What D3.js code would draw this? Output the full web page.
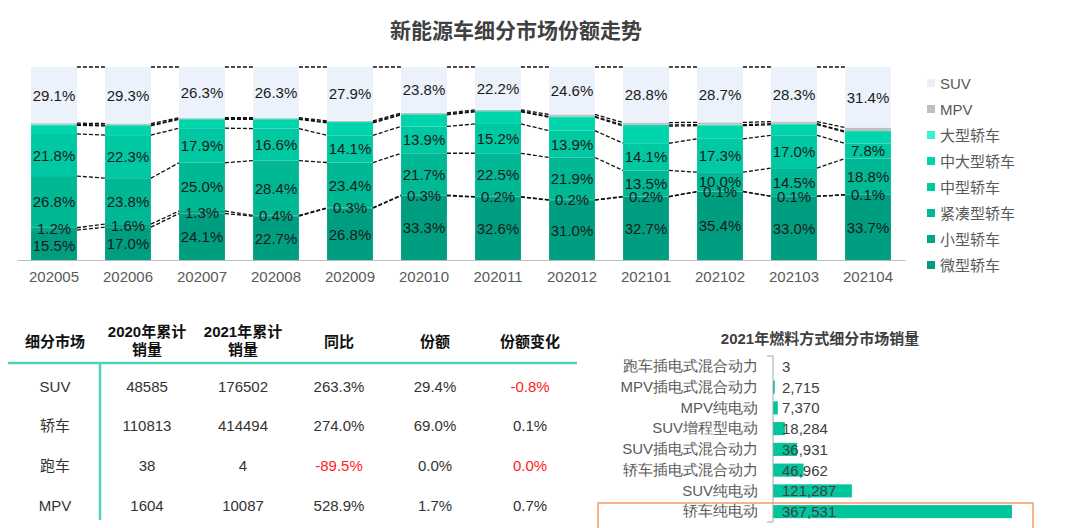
<!DOCTYPE html>
<html>
<head>
<meta charset="utf-8">
<script src="https://cdn.jsdelivr.net/npm/d3@7"></script>
<style>
  html, body { margin: 0; padding: 0; background: #fff; }
  svg { display: block; font-family: "Liberation Sans", Arial, "Noto Sans CJK SC", sans-serif; }
</style>
</head>
<body>
<svg id="chart" width="1080" height="528"></svg>
<script>
// ---------- Data: stacked share chart ----------
const months = ["202005","202006","202007","202008","202009","202010","202011","202012","202101","202102","202103","202104"];
const weixing     = [15.5, 17.0, 24.1, 22.7, 26.8, 33.3, 32.6, 31.0, 32.7, 35.4, 33.0, 33.7];
const xiaoxing    = [1.2, 1.6, 1.3, 0.4, 0.3, 0.3, 0.2, 0.2, 0.2, 0.1, 0.1, 0.1];
const jincou      = [26.8, 23.8, 25.0, 28.4, 23.4, 21.7, 22.5, 21.9, 13.5, 10.0, 14.5, 18.8];
const zhongxing   = [21.8, 22.3, 17.9, 16.6, 14.1, 13.9, 15.2, 13.9, 14.1, 17.3, 17.0, 7.8];
const zhongdaxing = [4.5, 4.8, 4.6, 4.8, 6.4, 6.0, 6.3, 7.0, 8.9, 6.8, 5.5, 5.9];
const daxing      = [0.4, 0.4, 0.3, 0.3, 0.5, 0.4, 0.4, 0.4, 0.6, 0.5, 0.5, 0.5];
const mpv         = [0.7, 0.8, 0.5, 0.5, 0.6, 0.6, 0.6, 1.0, 1.2, 1.2, 1.1, 1.8];
const suv         = [29.1, 29.3, 26.3, 26.3, 27.9, 23.8, 22.2, 24.6, 28.8, 28.7, 28.3, 31.4];

const seriesNames = ["微型轿车","小型轿车","紧凑型轿车","中型轿车","中大型轿车","大型轿车","MPV","SUV"];
const seriesData  = [weixing, xiaoxing, jincou, zhongxing, zhongdaxing, daxing, mpv, suv];
const labeledSeries = ["微型轿车","小型轿车","紧凑型轿车","中型轿车","SUV"];

// ---------- Data: table ----------
const tableHeaders = [["细分市场"], ["2020年累计","销量"], ["2021年累计","销量"], ["同比"], ["份额"], ["份额变化"]];
const segments   = ["SUV","轿车","跑车","MPV"];
const sales2020  = ["48585","110813","38","1604"];
const sales2021  = ["176502","414494","4","10087"];
const yoy        = ["263.3%","274.0%","-89.5%","528.9%"];
const shareCol   = ["29.4%","69.0%","0.0%","1.7%"];
const shareChg   = ["-0.8%","0.1%","0.0%","0.7%"];
const redYoy     = [false, false, true, false];
const redChg     = [true, false, true, false];

// ---------- Data: fuel bar chart ----------
const fuelCats   = ["跑车插电式混合动力","MPV插电式混合动力","MPV纯电动","SUV增程型电动","SUV插电式混合动力","轿车插电式混合动力","SUV纯电动","轿车纯电动"];
const fuelValues = [3, 2715, 7370, 18284, 36931, 46962, 121287, 367531];

// ---------- Styles ----------
const colors = {
  "微型轿车": "#009e80",
  "小型轿车": "#00a888",
  "紧凑型轿车": "#00b894",
  "中型轿车": "#00c8a2",
  "中大型轿车": "#00d4ab",
  "大型轿车": "#00e0b4",
  "MPV": "#bfbfbf",
  "SUV": "#ecf2fb"
};
const legendColors = Object.assign({}, colors, {"大型轿车": "#33f5cf", "SUV": "#eaf0fa"});

const svg = d3.select("#chart");

// Title
svg.append("text")
  .attr("x", 516).attr("y", 32)
  .attr("text-anchor", "middle").attr("dominant-baseline", "middle")
  .attr("font-size", 21).attr("font-weight", "bold").attr("fill", "#404040")
  .text("新能源车细分市场份额走势");

// ---------- Stacked chart ----------
const x = d3.scaleBand().domain(months).range([17, 905]).paddingInner(0.38).paddingOuter(0.19);
const y = d3.scaleLinear().domain([0, 100]).range([260, 67]);
const bw = x.bandwidth();

const rows = months.map((m, i) => {
  const o = {month: m};
  seriesNames.forEach((s, k) => o[s] = seriesData[k][i]);
  return o;
});
const stack = d3.stack().keys(seriesNames)(rows);

const gBars = svg.append("g");
stack.forEach(layer => {
  gBars.selectAll(null).data(layer).enter().append("rect")
    .attr("x", d => x(d.data.month))
    .attr("y", d => y(d[1]))
    .attr("width", bw)
    .attr("height", d => y(d[0]) - y(d[1]))
    .attr("fill", colors[layer.key]);
});

// Series lines (dashed) between bars
const gLines = svg.append("g");
stack.forEach(layer => {
  for (let i = 0; i < layer.length - 1; i++) {
    gLines.append("line")
      .attr("x1", x(months[i]) + bw).attr("y1", y(layer[i][1]))
      .attr("x2", x(months[i + 1])).attr("y2", y(layer[i + 1][1]))
      .attr("stroke", "#111").attr("stroke-width", 1.3)
      .attr("stroke-dasharray", "4,2");
  }
});

// Labels
const gLabels = svg.append("g");
stack.forEach(layer => {
  if (!labeledSeries.includes(layer.key)) return;
  gLabels.selectAll(null).data(layer).enter().append("text")
    .attr("x", d => x(d.data.month) + bw / 2)
    .attr("y", d => y((d[0] + d[1]) / 2))
    .attr("text-anchor", "middle").attr("dominant-baseline", "central")
    .attr("font-size", 15).attr("fill", "#1a1a1a")
    .text(d => d.data[layer.key].toFixed(1) + "%");
});

// X axis
const xAxis = svg.append("g").attr("transform", "translate(0,260)")
  .call(d3.axisBottom(x).tickSize(0).tickPadding(11));
xAxis.select(".domain").attr("stroke", "#bfbfbf").attr("stroke-width", 1.2);
xAxis.selectAll("text").attr("font-size", 15).attr("fill", "#595959")
  .attr("font-family", "\"Liberation Sans\", Arial, sans-serif");

// Legend
const legendOrder = seriesNames.slice().reverse();
const lg = svg.append("g");
legendOrder.forEach((s, i) => {
  const cy = 83 + i * 26;
  lg.append("rect").attr("x", 927).attr("y", cy - 4).attr("width", 8).attr("height", 8)
    .attr("fill", legendColors[s]);
  lg.append("text").attr("x", 940).attr("y", cy).attr("dominant-baseline", "central")
    .attr("font-size", 15).attr("fill", "#595959").text(s);
});

// ---------- Table ----------
const colX = [55, 147, 243, 339, 435, 530];
const tg = svg.append("g");
tableHeaders.forEach((h, c) => {
  h.forEach((line, j) => {
    const cy = h.length === 1 ? 341 : 331 + j * 18;
    tg.append("text").attr("x", colX[c]).attr("y", cy)
      .attr("text-anchor", "middle").attr("dominant-baseline", "central")
      .attr("font-size", 15).attr("font-weight", "bold").attr("fill", "#111").text(line);
  });
});
tg.append("line").attr("x1", 8).attr("x2", 577).attr("y1", 363).attr("y2", 363)
  .attr("stroke", "#4fd3c0").attr("stroke-width", 2.5);
tg.append("line").attr("x1", 100).attr("x2", 100).attr("y1", 363).attr("y2", 520)
  .attr("stroke", "#4fd3c0").attr("stroke-width", 2.5);
const cols = [segments, sales2020, sales2021, yoy, shareCol, shareChg];
segments.forEach((s, r) => {
  const cy = 386 + r * 39.7;
  cols.forEach((col, c) => {
    let fill = "#333";
    if (c === 3 && redYoy[r]) fill = "#ff2020";
    if (c === 5 && redChg[r]) fill = "#ff2020";
    tg.append("text").attr("x", colX[c]).attr("y", cy)
      .attr("text-anchor", "middle").attr("dominant-baseline", "central")
      .attr("font-size", 15).attr("fill", fill).text(col[r]);
  });
});

// ---------- Fuel bar chart ----------
svg.append("text").attr("x", 820).attr("y", 338)
  .attr("text-anchor", "middle").attr("dominant-baseline", "central")
  .attr("font-size", 15).attr("font-weight", "bold").attr("fill", "#404040")
  .text("2021年燃料方式细分市场销量");

const fy = d3.scaleBand().domain(fuelCats).range([356, 522]).paddingInner(0.37).paddingOuter(0.185);
const fx = d3.scaleLinear().domain([0, 367531]).range([773, 1012]);
const fg = svg.append("g");

// highlight box
fg.append("rect").attr("x", 598).attr("y", 503).attr("width", 435).attr("height", 30)
  .attr("fill", "none").attr("stroke", "#f7b487").attr("stroke-width", 2);

fg.selectAll(null).data(fuelCats).enter().append("rect")
  .attr("x", fx(0)).attr("y", d => fy(d))
  .attr("width", (d, i) => fx(fuelValues[i]) - fx(0))
  .attr("height", fy.bandwidth())
  .attr("fill", "#00c59d");

const fAxis = fg.append("g").attr("transform", `translate(${fx(0)},0)`)
  .call(d3.axisLeft(fy).tickSize(0).tickPadding(15));
fAxis.select(".domain").attr("stroke", "#a6a6a6").attr("stroke-width", 1)
  .attr("d", "M-6,356H0V522H-6");
fAxis.selectAll("text").attr("font-size", 15).attr("fill", "#595959");

fg.selectAll(null).data(fuelCats).enter().append("text")
  .attr("x", 782).attr("y", d => fy(d) + fy.bandwidth() / 2)
  .attr("dominant-baseline", "central")
  .attr("font-size", 15).attr("fill", "#404040")
  .text((d, i) => d3.format(",")(fuelValues[i]));
</script>
</body>
</html>
